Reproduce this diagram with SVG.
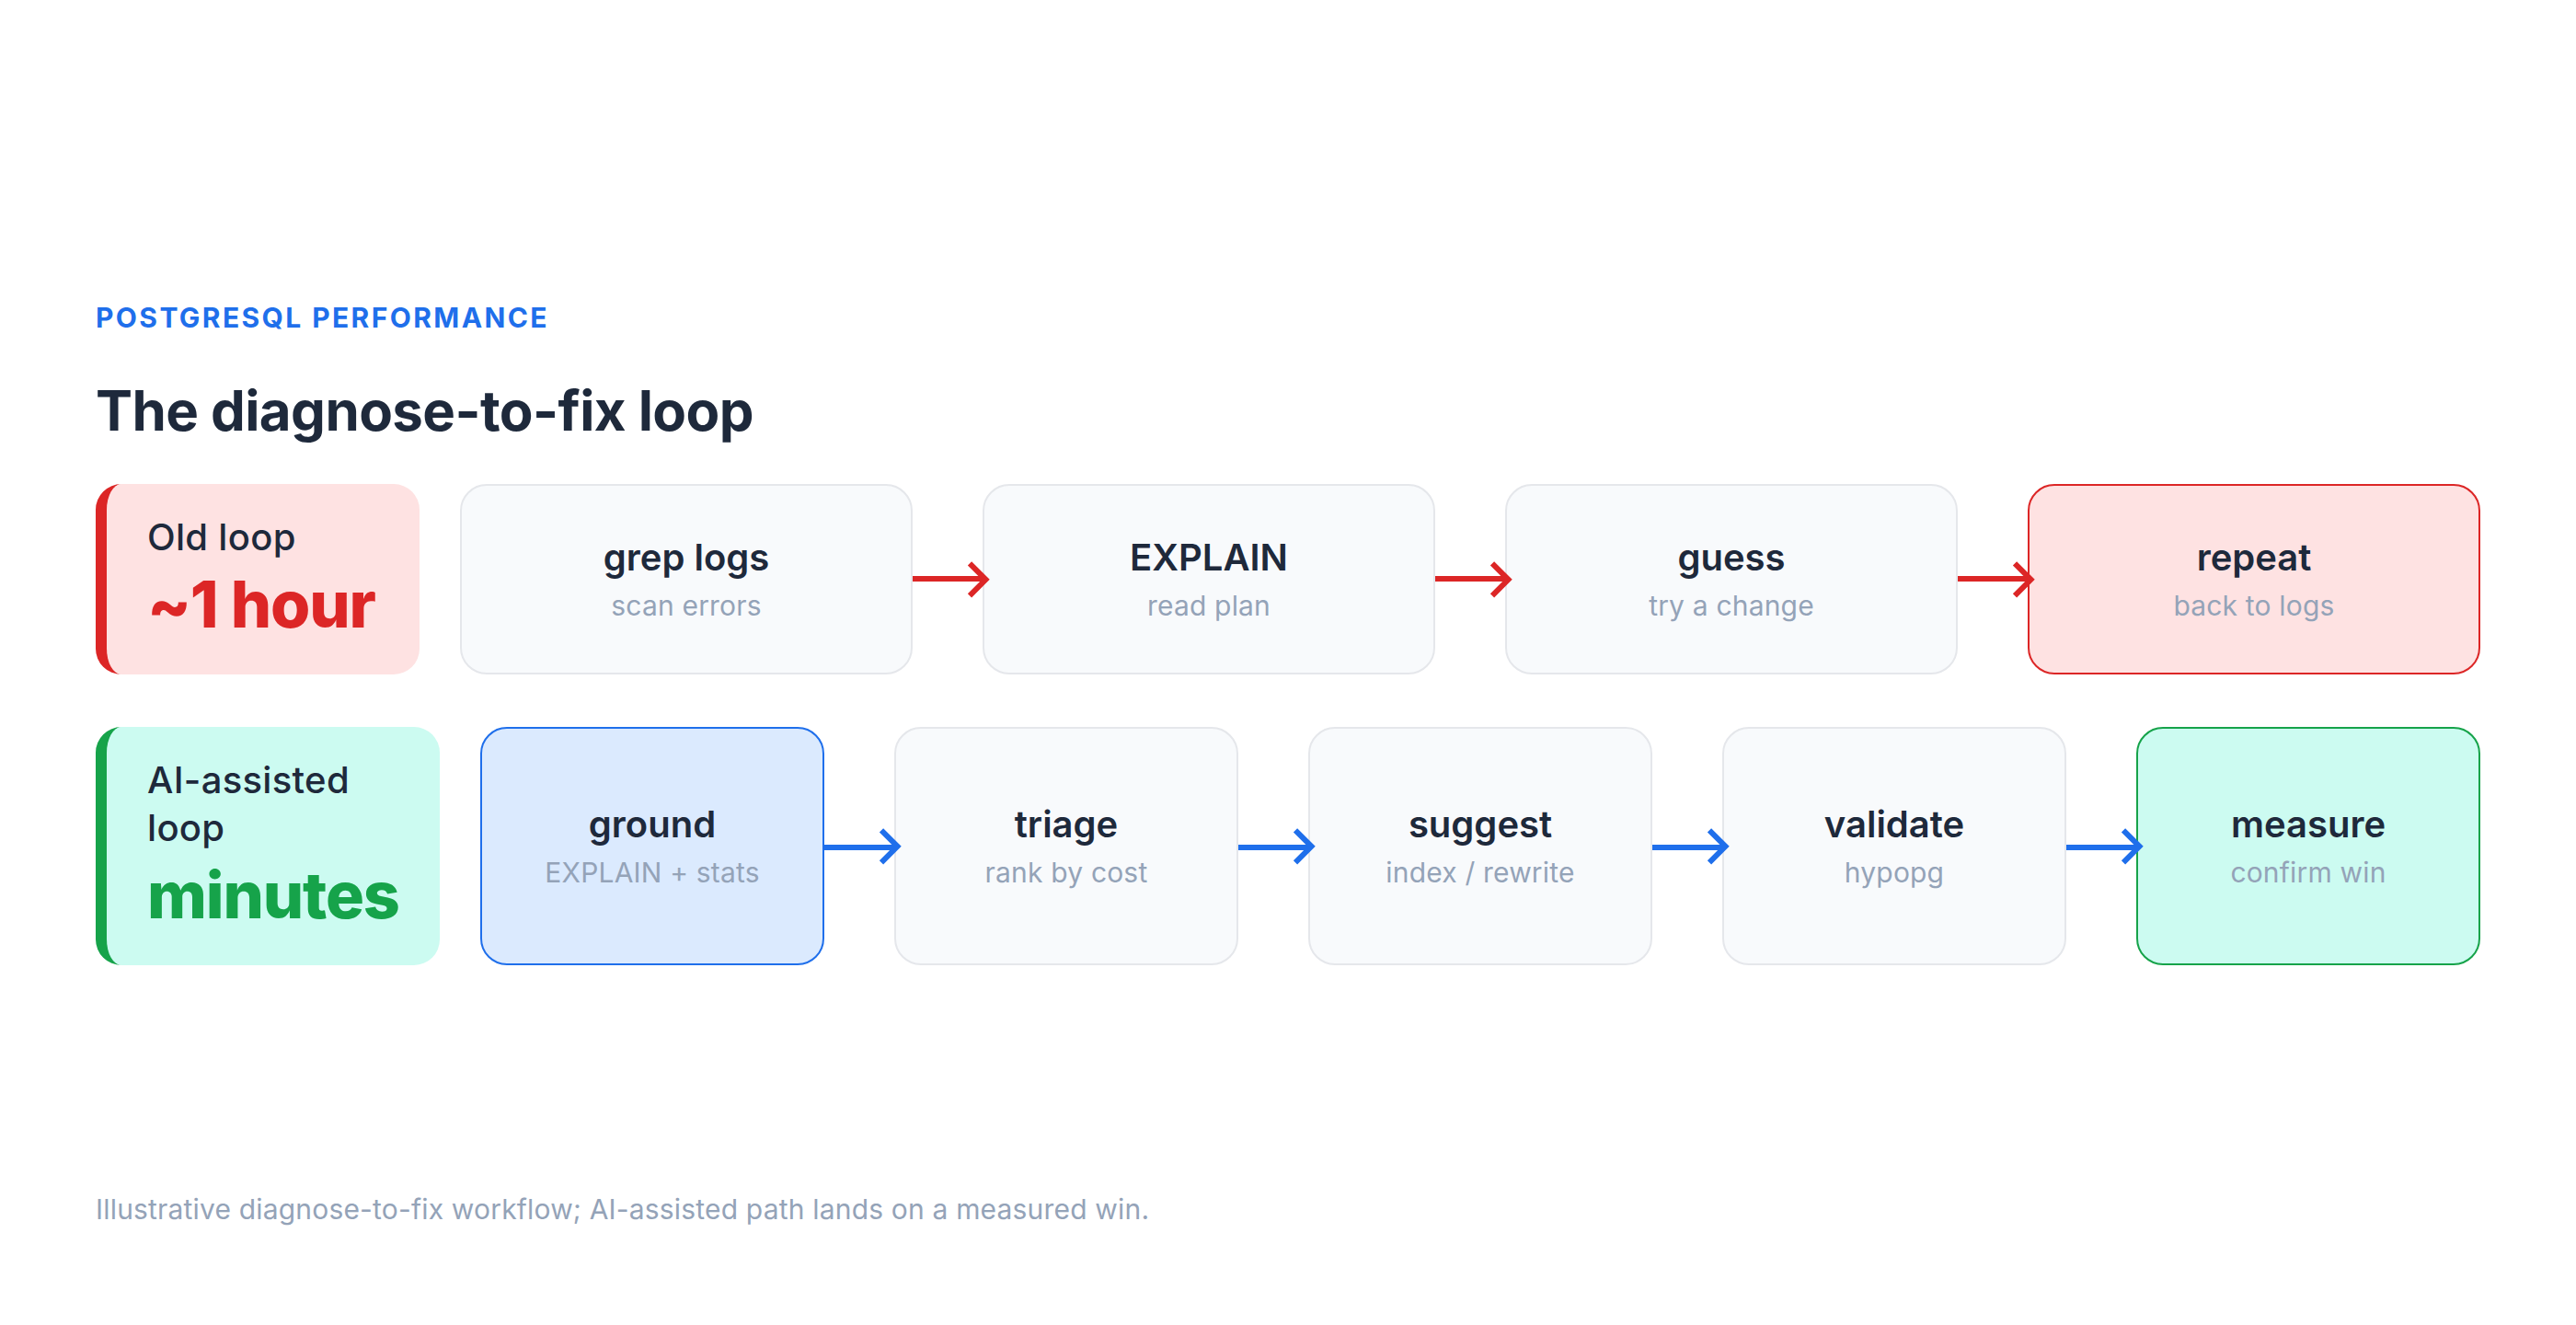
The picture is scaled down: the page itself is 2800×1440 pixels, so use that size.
<svg xmlns="http://www.w3.org/2000/svg" width="2800" height="1440" viewBox="0 0 2800 1440">
<defs>
<style>
text{font-family:"Inter","Liberation Sans",sans-serif}
.eyebrow{font-size:30px;font-weight:700;letter-spacing:2.4px;fill:#1f6feb}
.title{font-size:60px;font-weight:700;letter-spacing:-0.6px;fill:#1e293b}
.lab{font-size:40px;font-weight:500;letter-spacing:0.3px;fill:#1e293b}
.big{font-size:70px;font-weight:800;letter-spacing:-1.15px}
.nt{font-size:40px;font-weight:600;fill:#1e293b;text-anchor:middle}
.ns{font-size:30px;font-weight:400;letter-spacing:0.18px;fill:#94a3b8;text-anchor:middle}
.foot{font-size:30px;font-weight:400;letter-spacing:0.18px;fill:#94a3b8}
.n{stroke-width:2}
.plain{fill:#f8fafc;stroke:#e5e7eb}
.conn path{fill:none;stroke-width:6}
.r{stroke:#dc2626}.b{stroke:#1f6feb}
</style>
</defs>
<rect width="2800" height="1440" fill="#ffffff"/>
<text class="eyebrow" x="104" y="356">POSTGRESQL PERFORMANCE</text>
<text class="title" x="104" y="468">The diagnose-to-fix loop</text>
<g id="label-old">
<path d="M132 526A28 28 0 0 0 104 554V705A28 28 0 0 0 132 733A16 28 0 0 1 117 705V554A16 28 0 0 1 132 526Z" fill="#dc2626"/>
<path d="M132 526H428A28 28 0 0 1 456 554V705A28 28 0 0 1 428 733H132A16 28 0 0 1 116 705V554A16 28 0 0 1 132 526Z" fill="#fee2e2"/>
<text class="lab" x="160" y="598">Old loop</text>
<text class="big" x="160" y="682" fill="#dc2626">~1 hour</text>
</g>
<g id="node-grep"><rect class="n plain" x="501" y="527" width="490" height="205" rx="28"/><text class="nt" x="746" y="620">grep logs</text><text class="ns" x="746" y="669">scan errors</text></g>
<g id="node-explain"><rect class="n plain" x="1069" y="527" width="490" height="205" rx="28"/><text class="nt" x="1314" y="620">EXPLAIN</text><text class="ns" x="1314" y="669">read plan</text></g>
<g id="node-guess"><rect class="n plain" x="1637" y="527" width="490" height="205" rx="28"/><text class="nt" x="1882" y="620">guess</text><text class="ns" x="1882" y="669">try a change</text></g>
<g id="node-repeat"><rect class="n" x="2205" y="527" width="490" height="205" rx="28" fill="#fee2e2" stroke="#dc2626"/><text class="nt" x="2450" y="620">repeat</text><text class="ns" x="2450" y="669">back to logs</text></g>
<g id="label-ai">
<path d="M132 790A28 28 0 0 0 104 818V1021A28 28 0 0 0 132 1049A16 28 0 0 1 117 1021V818A16 28 0 0 1 132 790Z" fill="#16a34a"/>
<path d="M132 790H450A28 28 0 0 1 478 818V1021A28 28 0 0 1 450 1049H132A16 28 0 0 1 116 1021V818A16 28 0 0 1 132 790Z" fill="#ccfbf1"/>
<text class="lab" x="160" y="862">AI-assisted</text>
<text class="lab" x="160" y="914">loop</text>
<text class="big" x="160" y="998" fill="#16a34a">minutes</text>
</g>
<g id="node-ground"><rect class="n" x="523" y="791" width="372" height="257" rx="28" fill="#dbeafe" stroke="#1f6feb"/><text class="nt" x="709" y="910">ground</text><text class="ns" x="709" y="959">EXPLAIN + stats</text></g>
<g id="node-triage"><rect class="n plain" x="973" y="791" width="372" height="257" rx="28"/><text class="nt" x="1159" y="910">triage</text><text class="ns" x="1159" y="959">rank by cost</text></g>
<g id="node-suggest"><rect class="n plain" x="1423" y="791" width="372" height="257" rx="28"/><text class="nt" x="1609" y="910">suggest</text><text class="ns" x="1609" y="959">index / rewrite</text></g>
<g id="node-validate"><rect class="n plain" x="1873" y="791" width="372" height="257" rx="28"/><text class="nt" x="2059" y="910">validate</text><text class="ns" x="2059" y="959">hypopg</text></g>
<g id="node-measure"><rect class="n" x="2323" y="791" width="372" height="257" rx="28" fill="#ccfbf1" stroke="#16a34a"/><text class="nt" x="2509" y="910">measure</text><text class="ns" x="2509" y="959">confirm win</text></g>
<g id="connectors" class="conn">
<g class="r"><path d="M992 629H1070"/><path d="M1054 612.3L1071.5 629.8L1054 647.3"/><path d="M1560 629H1638"/><path d="M1622 612.3L1639.5 629.8L1622 647.3"/><path d="M2128 629H2206"/><path d="M2190 612.3L2207.5 629.8L2190 647.3"/></g>
<g class="b"><path d="M896 921H974"/><path d="M958 902.3L975.5 919.8L958 937.3"/><path d="M1346 921H1424"/><path d="M1408 902.3L1425.5 919.8L1408 937.3"/><path d="M1796 921H1874"/><path d="M1858 902.3L1875.5 919.8L1858 937.3"/><path d="M2246 921H2324"/><path d="M2308 902.3L2325.5 919.8L2308 937.3"/></g>
</g>
<text class="foot" x="104" y="1325">Illustrative diagnose-to-fix workflow; AI-assisted path lands on a measured win.</text>
</svg>
